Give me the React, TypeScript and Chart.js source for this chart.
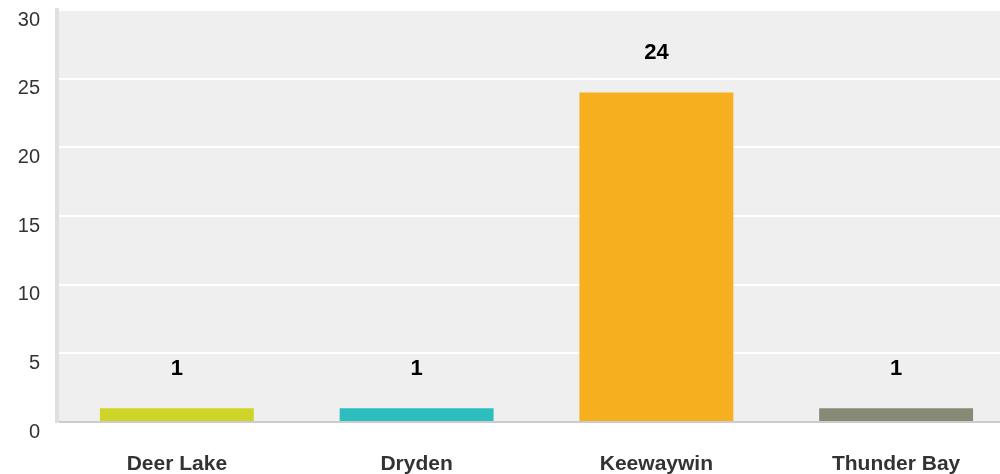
import React, { useEffect, useRef } from "react";
import { Chart, registerables } from "chart.js";

Chart.register(...registerables);

const categories = ["Deer Lake", "Dryden", "Keewaywin", "Thunder Bay"];
const values = [1, 1, 24, 1];
const barColors = ["#cfd428", "#2cbdbf", "#f6b01f", "#878a75"];
const yTicks = [0, 5, 10, 15, 20, 25, 30];

const FONT = "'Liberation Sans', Arial, sans-serif";

const bgPlugin = {
  id: "plotBg",
  beforeDraw(chart: any) {
    const { ctx, chartArea } = chart;
    ctx.save();
    ctx.fillStyle = "#efefef";
    ctx.fillRect(chartArea.left, chartArea.top, chartArea.right - chartArea.left, chartArea.bottom - chartArea.top);
    ctx.restore();
  },
};

const labelPlugin = {
  id: "valueLabels",
  afterDatasetsDraw(chart: any) {
    const { ctx } = chart;
    const meta = chart.getDatasetMeta(0);
    ctx.save();
    ctx.font = `bold 22px ${FONT}`;
    ctx.fillStyle = "#000";
    ctx.textAlign = "center";
    ctx.textBaseline = "middle";
    meta.data.forEach((bar: any, i: number) => {
      ctx.fillText(String(values[i]), bar.x, bar.y - 39);
    });
    ctx.restore();
  },
};

export default function App() {
  const ref = useRef<HTMLCanvasElement>(null);
  useEffect(() => {
    if (!ref.current) return;
    const chart = new Chart(ref.current, {
      type: "bar",
      data: {
        labels: categories,
        datasets: [
          {
            data: values,
            backgroundColor: barColors,
            barPercentage: 0.642,
            categoryPercentage: 1,
          },
        ],
      },
      options: {
        animation: false,
        responsive: false,
        maintainAspectRatio: false,
        layout: { padding: { top: 10, right: 0, left: 0, bottom: 0 } },
        plugins: { legend: { display: false }, tooltip: { enabled: false } },
        scales: {
          x: {
            grid: { display: false, drawTicks: false },
            border: { display: true, color: "#cccccc", width: 2 },
            ticks: {
              color: "#333333",
              padding: 30,
              maxRotation: 0,
              font: { family: FONT, size: 21, weight: "bold" },
            },
            afterFit(scale: any) {
              scale.height = 52;
              scale.paddingLeft = 0;
              scale.paddingRight = 0;
            },
          },
          y: {
            min: 0,
            max: 30,
            afterBuildTicks(scale: any) {
              scale.ticks = yTicks.map((v) => ({ value: v }));
            },
            grid: { color: "#ffffff", lineWidth: 2, drawTicks: false },
            border: { display: true, color: "#dfdfdf", width: 4 },
            ticks: {
              color: "#333333",
              padding: 17,
              labelOffset: 10,
              font: { family: FONT, size: 20 },
            },
            afterFit(scale: any) {
              scale.width = 57;
              scale.paddingTop = 0;
              scale.paddingBottom = 0;
            },
          },
        },
      },
      plugins: [bgPlugin, labelPlugin],
    });
    return () => chart.destroy();
  }, []);
  return (
    <div style={{ position: "fixed", left: 0, top: 0, width: 1000, height: 474, overflow: "hidden" }}>
      <canvas ref={ref} width={1016} height={474} style={{ display: "block" }} />
    </div>
  );
}
